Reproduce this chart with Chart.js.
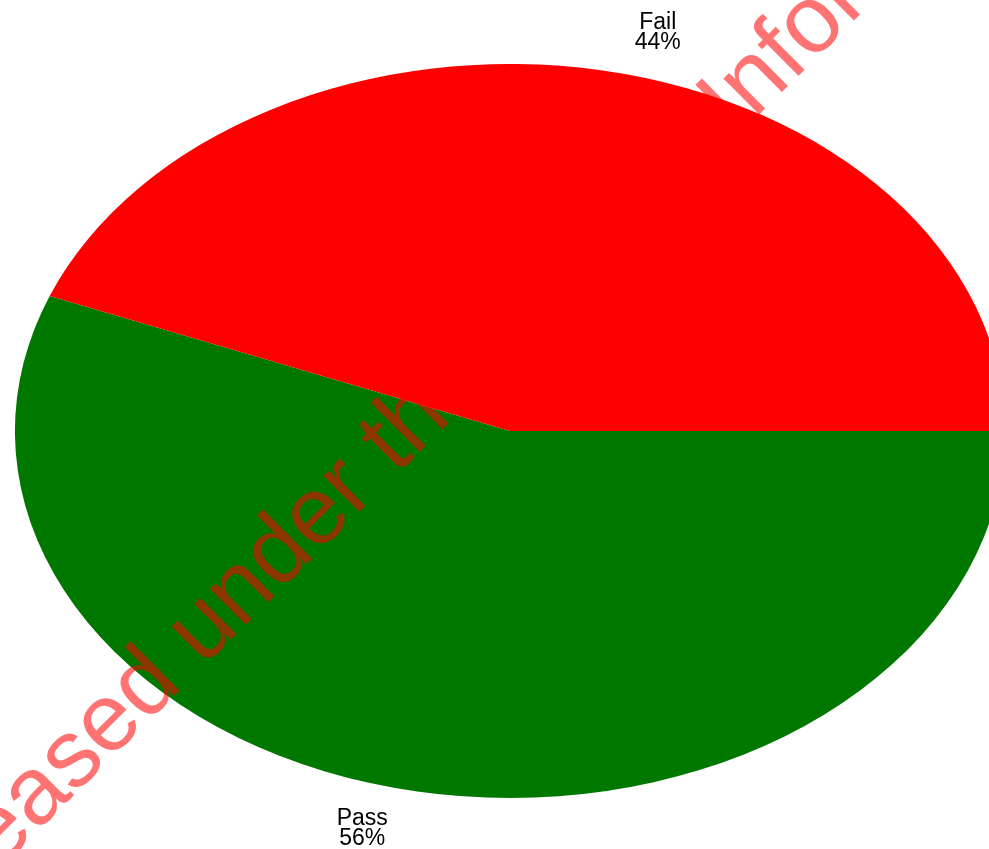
<!DOCTYPE html>
<html lang="en">
<head>
  <meta charset="UTF-8">
  <title>Pass / Fail</title>
  <script src="https://cdn.jsdelivr.net/npm/chart.js"></script>
  <style>
    html, body { margin: 0; padding: 0; background: #fff; }
    canvas { display: block; }
  </style>
</head>
<body>
  <canvas id="pieChart" width="989" height="849"></canvas>

  <script>
    // data
    const labels = ['Pass', 'Fail'];
    const values = [56, 44];
    const colors = ['#007800', '#ff0000'];

    // the original pie is stretched into an ellipse
    const stretchX = 1.349;
    const fontFamily = 'Arial, "Liberation Sans", sans-serif';

    const ellipsePlugin = {
      id: 'ellipse',
      beforeDatasetsDraw(chart) {
        const arc = chart.getDatasetMeta(0).data[0];
        const ctx = chart.ctx;
        ctx.save();
        ctx.translate(arc.x, arc.y);
        ctx.scale(stretchX, 1);
        ctx.translate(-arc.x, -arc.y);
      },
      afterDatasetsDraw(chart) {
        chart.ctx.restore();
      }
    };

    const labelPlugin = {
      id: 'sliceLabels',
      afterDraw(chart) {
        const ctx = chart.ctx;
        const meta = chart.getDatasetMeta(0);
        const total = values.reduce((a, b) => a + b, 0);
        ctx.save();
        ctx.fillStyle = '#000';
        ctx.font = '23px ' + fontFamily;
        ctx.textAlign = 'center';
        ctx.textBaseline = 'alphabetic';
        meta.data.forEach((arc, i) => {
          // labels sit a little past the mid angle, just outside the rim
          const mid = (arc.startAngle + arc.endAngle) / 2 + 0.08;
          const r = arc.outerRadius * 1.125;
          const x = arc.x + Math.cos(mid) * r * stretchX;
          const y = arc.y + Math.sin(mid) * r;
          const pct = Math.round(values[i] / total * 100) + '%';
          ctx.fillText(labels[i], x, y - 4);
          ctx.fillText(pct, x, y + 16);
        });
        ctx.restore();
      }
    };

    // release watermark laid over the page
    const watermarkPlugin = {
      id: 'watermark',
      afterDraw(chart) {
        const ctx = chart.ctx;
        ctx.save();
        ctx.font = '96px ' + fontFamily;
        ctx.fillStyle = 'rgba(255, 0, 0, 0.55)';
        ctx.textBaseline = 'alphabetic';
        ctx.textAlign = 'left';
        const lead = ctx.measureText('Released ').width;
        ctx.translate(203, 667);
        ctx.rotate(-44.8 * Math.PI / 180);
        ctx.fillText('Released under the Official Information Act', -lead, 0);
        ctx.restore();
      }
    };

    new Chart(document.getElementById('pieChart'), {
      type: 'pie',
      data: {
        labels: labels,
        datasets: [{
          data: values,
          backgroundColor: colors,
          borderWidth: 0,
          hoverOffset: 0,
          clip: false
        }]
      },
      options: {
        responsive: false,
        animation: false,
        rotation: 90,
        layout: {
          padding: { top: 64, bottom: 51, left: 143, right: 112 }
        },
        plugins: {
          legend: { display: false },
          tooltip: { enabled: false }
        },
        events: []
      },
      plugins: [ellipsePlugin, labelPlugin, watermarkPlugin]
    });
  </script>
</body>
</html>
